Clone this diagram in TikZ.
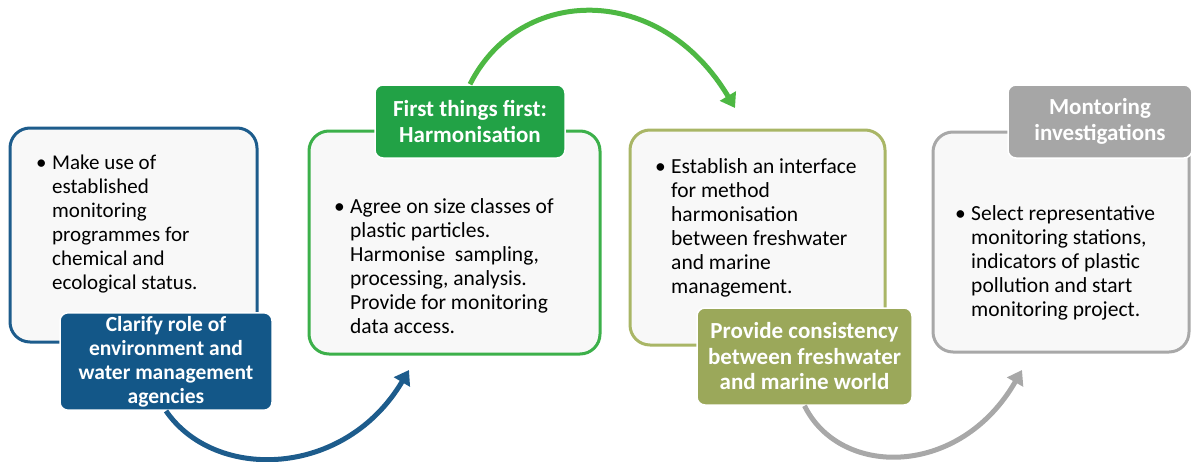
\documentclass[tikz,border=0pt]{standalone}
\usepackage{fontspec}
\setmainfont{Carlito}
\usetikzlibrary{positioning, arrows.meta}

\definecolor{blueC}{HTML}{1D5C8C}
\definecolor{blueL}{HTML}{135788}
\definecolor{greenC}{HTML}{3CB04A}
\definecolor{greenA}{HTML}{4DB843}
\definecolor{greenL}{HTML}{22A246}
\definecolor{oliveC}{HTML}{A9B666}
\definecolor{oliveL}{HTML}{9BA85A}
\definecolor{grayC}{HTML}{A8A8A8}
\definecolor{grayL}{HTML}{A6A6A6}
\definecolor{boxfill}{HTML}{F8F8F8}

\newcommand{\bulitem}[1]{\makebox[16pt][l]{\textbullet}\begin{tabular}[t]{@{}l@{}}#1\end{tabular}}

\begin{document}
\begin{tikzpicture}[x=1pt, y=-1pt, >={Triangle[length=14pt,width=18pt]},
    box/.style={rectangle, rounded corners=20pt, line width=3pt, fill=boxfill},
    tag/.style={rectangle, rounded corners=8pt, draw=white, line width=1.5pt,
      text=white, align=center, font=\fontsize{23}{25.5}\selectfont\bfseries},
    bodytext/.style={anchor=north west, inner sep=0pt, align=left,
      font=\fontsize{21.5}{24}\selectfont},
    flow/.style={->, line width=5pt}]
  \useasboundingbox (0,0) rectangle (1191,461);

  % boxes
  \node[box, draw=blueC, minimum width=247pt, minimum height=214pt] (box1) at (133.5,235) {};
  \node[box, draw=greenC, minimum width=291pt, minimum height=223pt] (box2) at (454.5,242.5) {};
  \node[box, draw=oliveC, minimum width=255pt, minimum height=215pt] (box3) at (757.5,237.5) {};
  \node[box, draw=grayC, minimum width=256pt, minimum height=220pt] (box4) at (1061,242) {};

  % texts
  \node[bodytext, font=\fontsize{21}{24}\selectfont] (txt1) at (36,152) {\bulitem{Make use of\\established\\monitoring\\programmes for\\chemical and\\ecological status.}};
  \node[bodytext] (txt2) at (334,196) {\bulitem{Agree on size classes of\\plastic particles.\\Harmonise\ \ sampling,\\processing, analysis.\\Provide for monitoring\\data access.}};
  \node[bodytext] (txt3) at (655,156) {\bulitem{Establish an interface\\for method\\harmonisation\\between freshwater\\and marine\\management.}};
  \node[bodytext] (txt4) at (955,203) {\bulitem{Select representative\\monitoring stations,\\indicators of plastic\\pollution and start\\monitoring project.}};

  % labels
  \node[tag, fill=blueL, minimum width=212pt, minimum height=97pt,
    font=\fontsize{21.5}{24}\selectfont\bfseries] (lab1) at (166,361.5) {Clarify role of\\environment and\\water management\\agencies};
  \node[tag, fill=greenL, minimum width=190pt, minimum height=73pt] (lab2) at (470,121.5) {First things first:\\Harmonisation};
  \node[tag, fill=oliveL, minimum width=215pt, minimum height=97pt] (lab3) at (804.5,356.5) {Provide consistency\\between freshwater\\and marine world};
  \node[tag, fill=grayL, minimum width=184pt, minimum height=73pt] (lab4) at (1100,121.5) {Montoring\\investigations};

  % arrows
  \coordinate (end1) at (409,370);
  \coordinate (end2) at (735,108);
  \coordinate (end3) at (1022,370);
  \draw[flow, blueC] (lab1.south) .. controls (215,482) and (345,478) .. (end1);
  \draw[flow, greenA] (lab2.north) .. controls (520,-15) and (660,-18) .. (end2);
  \draw[flow, grayC] (lab3.south) .. controls (840,478) and (960,478) .. (end3);
\end{tikzpicture}
\end{document}
